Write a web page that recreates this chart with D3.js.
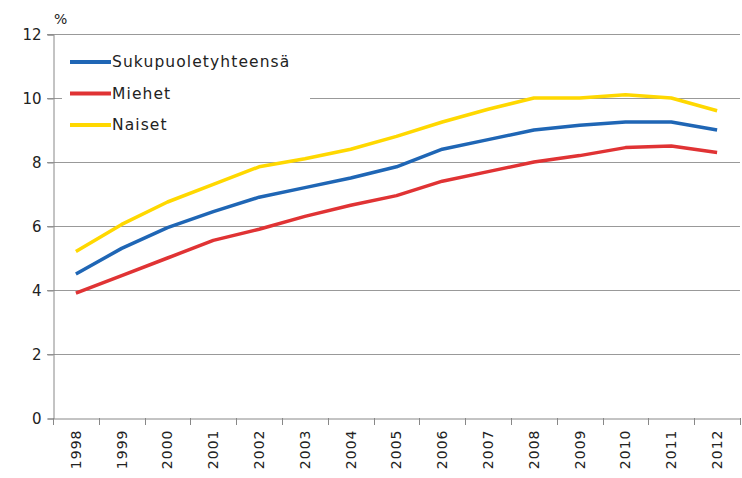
<!DOCTYPE html>
<html>
<head>
<meta charset="utf-8">
<script src="https://cdn.jsdelivr.net/npm/d3@7"></script>
<style>
  body { margin: 0; background: #fff; }
  text { font-family: "DejaVu Sans", Verdana, sans-serif; fill: #222; }
</style>
</head>
<body>
<div id="chart"></div>
<script>
var years = ["1998","1999","2000","2001","2002","2003","2004","2005","2006","2007","2008","2009","2010","2011","2012"];
var yhteensa = [4.5, 5.3, 5.95, 6.45, 6.9, 7.2, 7.5, 7.85, 8.4, 8.7, 9.0, 9.15, 9.25, 9.25, 9.0];
var miehet   = [3.9, 4.45, 5.0, 5.55, 5.9, 6.3, 6.65, 6.95, 7.4, 7.7, 8.0, 8.2, 8.45, 8.5, 8.3];
var naiset   = [5.2, 6.05, 6.75, 7.3, 7.85, 8.1, 8.4, 8.8, 9.25, 9.65, 10.0, 10.0, 10.1, 10.0, 9.6];
var yTicks = [0, 2, 4, 6, 8, 10, 12];
var seriesNames = ["Sukupuoletyhteensä", "Miehet", "Naiset"];

var width = 742, height = 478;
var margin = {top: 34, right: 2, bottom: 60, left: 53};

var svg = d3.select("#chart").append("svg")
    .attr("width", width)
    .attr("height", height);

var x = d3.scaleBand()
    .domain(years)
    .range([margin.left, width - margin.right]);

var y = d3.scaleLinear()
    .domain([0, 12])
    .range([height - margin.bottom, margin.top]);

// gridlines
svg.append("g")
  .selectAll("line")
  .data(yTicks.filter(function(d){ return d > 0; }))
  .enter().append("line")
    .attr("x1", margin.left - 6)
    .attr("x2", width - margin.right)
    .attr("y1", function(d){ return y(d) + 0.5; })
    .attr("y2", function(d){ return y(d) + 0.5; })
    .attr("stroke", "#999")
    .attr("stroke-width", 1);

// y axis
var yAxis = svg.append("g")
    .attr("transform", "translate(" + (margin.left + 0.5) + ",0.5)")
    .call(d3.axisLeft(y).tickValues(yTicks).tickSize(6).tickPadding(6));
yAxis.select(".domain").attr("stroke", "#888");
yAxis.selectAll(".tick line").attr("stroke", "#888");
yAxis.selectAll("text").style("font-size", "15px").attr("fill", "#222");

svg.append("text")
    .attr("x", 54)
    .attr("y", 24)
    .style("font-size", "14px")
    .text("%");

// x axis
var xAxis = svg.append("g")
    .attr("transform", "translate(0," + (y(0) + 0.5) + ")")
    .call(d3.axisBottom(x).tickSize(0).tickPadding(0));
xAxis.select(".domain").attr("stroke", "#888");
xAxis.selectAll("text")
    .style("font-size", "14px")
    .style("letter-spacing", "1px")
    .attr("fill", "#222")
    .attr("transform", "rotate(-90)")
    .attr("text-anchor", "end")
    .attr("dx", "-11px")
    .attr("dy", "0.35em")
    .attr("y", 0)
    .attr("x", 0);

// tick marks at band boundaries
svg.append("g")
  .selectAll("line")
  .data(years.concat(["end"]))
  .enter().append("line")
    .attr("x1", function(d, i){ return Math.round(margin.left + i * x.step()) + 0.5; })
    .attr("x2", function(d, i){ return Math.round(margin.left + i * x.step()) + 0.5; })
    .attr("y1", y(0))
    .attr("y2", y(0) + 7)
    .attr("stroke", "#888");

// lines
var colors = ["#1f66b5", "#e03334", "#ffd800"];
var data = [yhteensa, miehet, naiset];

var line = d3.line()
    .x(function(d, i){ return x(years[i]) + x.bandwidth() / 2; })
    .y(function(d){ return y(d); });

svg.append("g")
  .selectAll("path")
  .data(data.slice().reverse())
  .enter().append("path")
    .attr("d", line)
    .attr("fill", "none")
    .attr("stroke", function(d, i){ return colors[2 - i]; })
    .attr("stroke-width", 3.5)
    .attr("stroke-linejoin", "round");

// legend
var legend = svg.append("g");
legend.append("rect")
    .attr("x", 62)
    .attr("y", 46)
    .attr("width", 248)
    .attr("height", 92)
    .attr("fill", "#fff");

var item = legend.selectAll(".item")
    .data(seriesNames)
  .enter().append("g")
    .attr("class", "item")
    .attr("transform", function(d, i){ return "translate(70," + (62 + i * 31.5) + ")"; });

item.append("line")
    .attr("x1", 0)
    .attr("x2", 41)
    .attr("stroke", function(d, i){ return colors[i]; })
    .attr("stroke-width", 4);

item.append("text")
    .attr("x", 42)
    .attr("dy", "0.35em")
    .style("font-size", "15.5px")
    .style("letter-spacing", "1.1px")
    .text(function(d){ return d; });
</script>
</body>
</html>
